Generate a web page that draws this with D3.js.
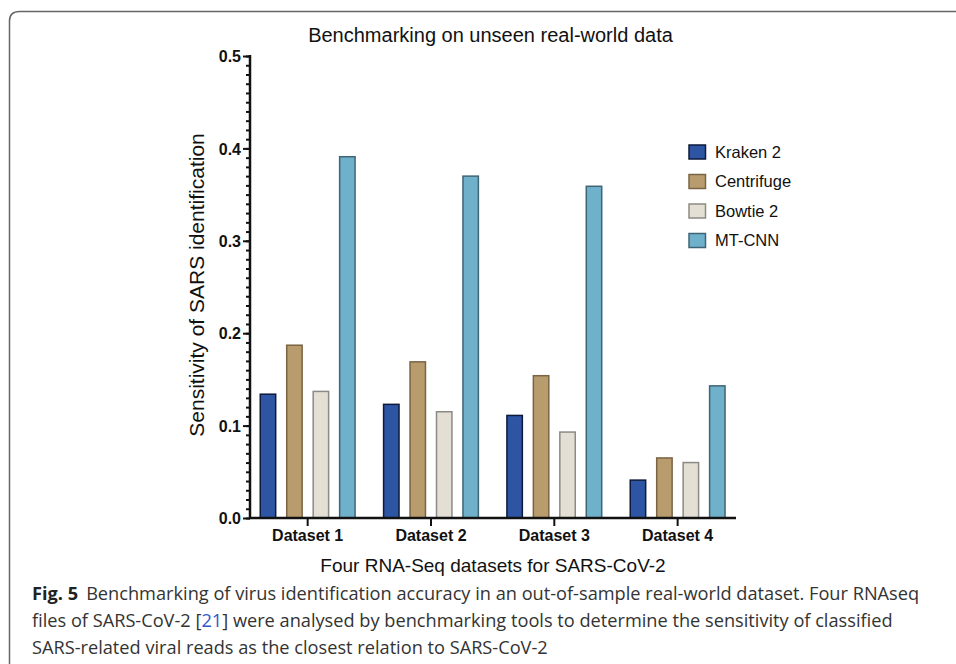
<!DOCTYPE html>
<html><head><meta charset="utf-8">
<script src="https://cdn.jsdelivr.net/npm/d3@7"></script>
<style>body{margin:0;background:#fff;}svg{display:block;}</style>
</head><body>
<svg id="chart" width="956" height="664"></svg>
<script>
const categories = ["Dataset 1", "Dataset 2", "Dataset 3", "Dataset 4"];
const seriesNames = ["Kraken 2", "Centrifuge", "Bowtie 2", "MT-CNN"];
const kraken2 = [0.134, 0.123, 0.111, 0.041];
const centrifuge = [0.187, 0.169, 0.154, 0.065];
const bowtie2 = [0.137, 0.115, 0.093, 0.060];
const mtcnn = [0.391, 0.370, 0.359, 0.143];
const yTicks = [0.0, 0.1, 0.2, 0.3, 0.4, 0.5];
const fills = ["#2e55a3", "#b89c6e", "#e3dfd4", "#6fb0cb"];
const strokes = ["#0d1a3a", "#7a6444", "#8c8a84", "#3f6575"];
const seriesValues = [kraken2, centrifuge, bowtie2, mtcnn];

const svg = d3.select("#chart");
// panel border (rounded top-left, open right & bottom)
svg.append("path")
  .attr("d", "M9.5,664 L9.5,21 Q9.5,11.5 19.5,11.5 L956,11.5")
  .attr("fill", "none").attr("stroke", "#666").attr("stroke-width", 1.5);

const x0 = 250, x1 = 736, yBase = 518, yTop = 56;
const x = d3.scaleBand().domain(categories).range([246, 739.3]).paddingInner(0).paddingOuter(0);
const xs = d3.scaleBand().domain(seriesNames).range([0, 96.3]).paddingInner(0.36).paddingOuter(0);
const y = d3.scaleLinear().domain([0, 0.5]).range([yBase, yTop]);

// bars
const g = svg.append("g");
categories.forEach((c, i) => {
  const cx = x(c) + x.bandwidth() / 2 - 48.15;
  seriesNames.forEach((s, j) => {
    const v = seriesValues[j][i];
    g.append("rect")
      .attr("x", cx + xs(s) + 0.75)
      .attr("y", y(v))
      .attr("width", xs.bandwidth() - 1.5)
      .attr("height", yBase - y(v))
      .attr("fill", fills[j]).attr("stroke", strokes[j]).attr("stroke-width", 1.5);
  });
});

// y axis with minor ticks
const minor = d3.range(0, 51).map(d => d / 100);
const yAxisMinor = d3.axisLeft(y).tickValues(minor).tickSize(4).tickFormat("");
svg.append("g").attr("transform", `translate(${x0},0)`).call(yAxisMinor)
  .call(a => a.select(".domain").remove())
  .selectAll("line").attr("stroke", "#111").attr("stroke-width", 2);
const yAxis = d3.axisLeft(y).tickValues(yTicks).tickSize(7).tickPadding(2).tickFormat(d3.format(".1f"));
const ya = svg.append("g").attr("transform", `translate(${x0},0)`).call(yAxis);
ya.select(".domain").remove();
ya.selectAll("line").attr("stroke", "#111").attr("stroke-width", 2);
ya.selectAll("text").attr("font-family", "Liberation Sans, Arial, sans-serif")
  .attr("font-size", 16).attr("font-weight", "bold").attr("fill", "#111").attr("dy", "0.35em");
svg.append("line").attr("x1", x0).attr("x2", x0).attr("y1", yTop - 1).attr("y2", yBase + 1)
  .attr("stroke", "#111").attr("stroke-width", 2.5);

// x axis
const xAxis = d3.axisBottom(x).tickSize(8).tickPadding(4);
const xa = svg.append("g").attr("transform", `translate(0,${yBase})`).call(xAxis);
xa.select(".domain").remove();
xa.selectAll("line").attr("stroke", "#111").attr("stroke-width", 2);
xa.selectAll("text").attr("font-family", "Liberation Sans, Arial, sans-serif")
  .attr("font-size", 16).attr("font-weight", "bold").attr("fill", "#111");
svg.append("line").attr("x1", x0 - 1).attr("x2", x1).attr("y1", yBase).attr("y2", yBase)
  .attr("stroke", "#111").attr("stroke-width", 2.5);

// titles
svg.append("text").attr("x", 490.5).attr("y", 42).attr("text-anchor", "middle")
  .attr("font-family", "Liberation Sans, Arial, sans-serif").attr("font-size", 20).attr("fill", "#111")
  .text("Benchmarking on unseen real-world data");
svg.append("text").attr("transform", "translate(204,285) rotate(-90)").attr("text-anchor", "middle")
  .attr("font-family", "Liberation Sans, Arial, sans-serif").attr("font-size", 21).attr("fill", "#111")
  .text("Sensitivity of SARS identification");
svg.append("text").attr("x", 493).attr("y", 572).attr("text-anchor", "middle")
  .attr("font-family", "Liberation Sans, Arial, sans-serif").attr("font-size", 19).attr("fill", "#111")
  .text("Four RNA-Seq datasets for SARS-CoV-2");

// legend
const lg = svg.append("g");
seriesNames.forEach((s, j) => {
  const cy = 152 + j * 29.5;
  lg.append("rect").attr("x", 689).attr("y", cy - 7).attr("width", 16.5).attr("height", 14)
    .attr("fill", fills[j]).attr("stroke", strokes[j]).attr("stroke-width", 1.5);
  lg.append("text").attr("x", 715).attr("y", cy).attr("dy", "0.35em")
    .attr("font-family", "Liberation Sans, Arial, sans-serif").attr("font-size", 16.5).attr("fill", "#111")
    .text(s);
});

// caption
const cap = svg.append("g").attr("font-family", "Open Sans, Noto Sans, sans-serif").attr("font-size", 18.2).attr("fill", "#333");
const l1 = cap.append("text").attr("x", 32).attr("y", 600);
l1.append("tspan").attr("font-weight", "bold").attr("fill", "#222").text("Fig. 5");
l1.append("tspan").attr("dx", 8).text("Benchmarking of virus identification accuracy in an out-of-sample real-world dataset. Four RNAseq");
const l2 = cap.append("text").attr("x", 32).attr("y", 627);
l2.append("tspan").text("files of SARS-CoV-2 [");
l2.append("tspan").attr("fill", "#3355cc").text("21");
l2.append("tspan").text("] were analysed by benchmarking tools to determine the sensitivity of classified");
cap.append("text").attr("x", 32).attr("y", 654).text("SARS-related viral reads as the closest relation to SARS-CoV-2");
</script>
</body></html>
